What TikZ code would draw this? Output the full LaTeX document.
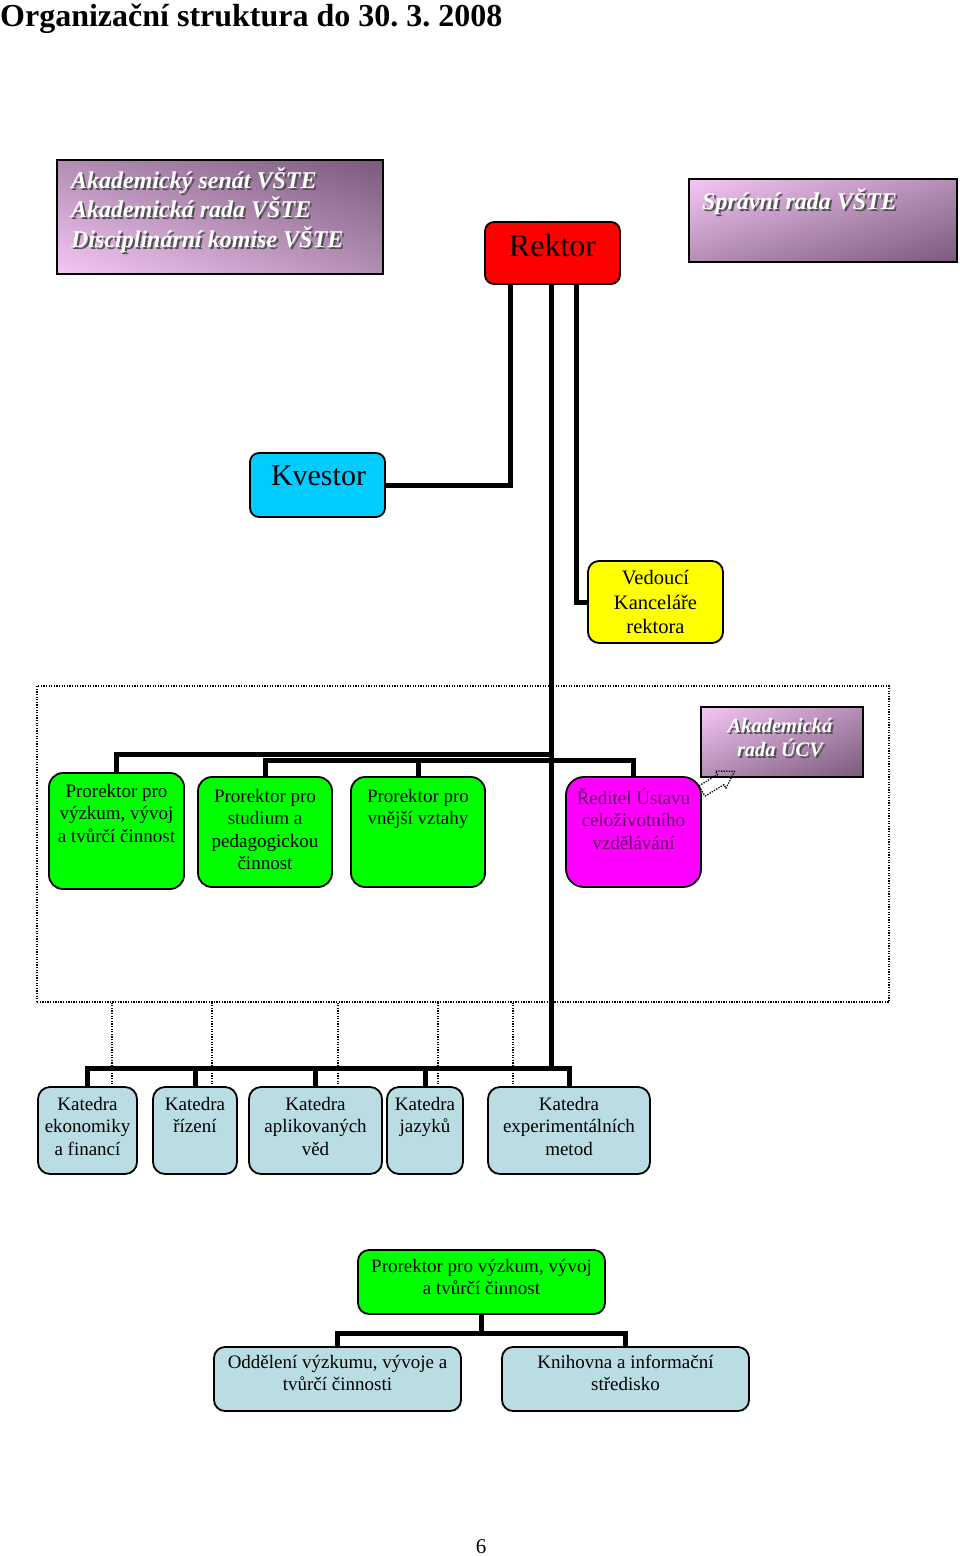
\documentclass[tikz,border=0pt]{standalone}
\usepackage{fontspec}
\setmainfont{Liberation Serif}
\usetikzlibrary{shadings}
\frenchspacing
\definecolor{grn}{HTML}{00FF00}
\definecolor{rkt}{HTML}{FF0000}
\definecolor{kvs}{HTML}{00CCFF}
\definecolor{ylw}{HTML}{FFFF00}
\definecolor{mgn}{HTML}{FF00FF}
\definecolor{mtx}{HTML}{5C005C}
\definecolor{kat}{HTML}{B9DDE3}
\definecolor{plA}{HTML}{F5C6F5}
\definecolor{plB}{HTML}{B48EB4}
\definecolor{plC}{HTML}{7A5A7C}
\definecolor{shd}{HTML}{505050}
\newcommand\fl{\rule{0pt}{0.95em}}
\newcommand\wordart[5]{%
  \node[wshadow,#5] (#1s) at (#2+2,#3+2) {#4};
  \node[wtext,#5] (#1) at (#2,#3) {#4};}
\tikzset{
  conn/.style={line width=5pt, line join=miter},
  dotln/.style={line width=1.3pt, dash pattern=on 1.3pt off 1.3pt},
  boxbase/.style={draw=black, line width=1.8pt, inner sep=0pt, outer sep=0pt},
  gbox/.style={boxbase, fill=grn, rounded corners=14pt},
  kbox/.style={boxbase, fill=kat, rounded corners=12pt},
  pbox/.style={boxbase, line width=2pt},
  txt/.style={inner sep=0pt, align=center, anchor=north, font=\fontsize{19}{22.5}\selectfont},
  wtext/.style={inner sep=0pt, text=white, font=\bfseries\itshape\fontsize{24}{28}\selectfont},
  wshadow/.style={wtext, text=shd},
}
\begin{document}
\begin{tikzpicture}[x=1pt,y=-1pt]
\useasboundingbox (0,0) rectangle (960,1556);

% title
\node[inner sep=0pt, anchor=base west, font=\bfseries\fontsize{32}{36}\selectfont] (title) at (0,26) {Organizační struktura do 30. 3. 2008};

% purple boxes
\node[pbox, minimum width=326pt, minimum height=114pt, upper left=plB, upper right=plC, lower left=plA, lower right=plB] (senat) at (220,217) {};
\wordart{senatA}{71}{188}{Akademický senát VŠTE}{anchor=base west}
\wordart{senatB}{71}{217.5}{Akademická rada VŠTE}{anchor=base west}
\wordart{senatC}{71}{247}{Disciplinární komise VŠTE}{anchor=base west}

\node[pbox, minimum width=268pt, minimum height=83pt, upper left=plA, upper right=plB, lower left=plB, lower right=plC] (sprava) at (823,220.5) {};
\wordart{spravaA}{702}{209}{Správní rada VŠTE}{anchor=base west}

% Rektor, Kvestor, Vedouci
\node[boxbase, fill=rkt, rounded corners=9pt, minimum width=135pt, minimum height=62pt] (rektor) at (552.5,253) {};
\node[inner sep=0pt, anchor=base, font=\fontsize{32}{36}\selectfont] (rektort) at (552.5,256) {Rektor};

\node[boxbase, fill=kvs, rounded corners=9pt, minimum width=135pt, minimum height=64pt] (kvestor) at (317.5,485) {};
\node[inner sep=0pt, anchor=base, font=\fontsize{30}{34}\selectfont] (kvestort) at (318.5,485) {Kvestor};

\node[boxbase, fill=ylw, rounded corners=11pt, minimum width=135pt, minimum height=82pt] (vedouci) at (655.5,602) {};
\node[txt, font=\fontsize{20.5}{24.5}\selectfont] (vedoucit) at (655.5,565) {\fl Vedoucí\\Kanceláře\\rektora};

% dotted frame
\node[dotln, draw, inner sep=0pt, outer sep=0pt, minimum width=852pt, minimum height=316pt] (frame) at (463,844) {};

% UCV box
\node[pbox, minimum width=162pt, minimum height=70pt, upper left=plA, upper right=plB, lower left=plB, lower right=plC] (ucv) at (782,742) {};
\wordart{ucvA}{780}{732}{Akademická}{anchor=base, font=\bfseries\itshape\fontsize{20.5}{24}\selectfont}
\wordart{ucvB}{780}{756}{rada ÚCV}{anchor=base, font=\bfseries\itshape\fontsize{20.5}{24}\selectfont}

% green boxes
\node[gbox, minimum width=135pt, minimum height=116pt] (p1) at (116.5,831) {};
\node[txt] (p1t) at (116.5,779) {\fl Prorektor pro\\výzkum, vývoj\\a tvůrčí činnost};
\node[gbox, minimum width=134pt, minimum height=110pt] (p2) at (265,832) {};
\node[txt] (p2t) at (265,784) {\fl Prorektor pro\\studium a\\pedagogickou\\činnost};
\node[gbox, minimum width=134pt, minimum height=110pt] (p3) at (418,832) {};
\node[txt] (p3t) at (418,784) {\fl Prorektor pro\\vnější vztahy};
\node[boxbase, fill=mgn, rounded corners=18pt, minimum width=135pt, minimum height=110pt] (p4) at (633.5,832) {};
\node[txt, text=mtx] (p4t) at (633.5,786) {\fl Ředitel Ústavu\\celoživotního\\vzdělávání};

% dotted arrow
\draw[dotln, line join=round] (705.1,796.1) -- (723.9,784.7) -- (726.0,788.2) -- (734.5,771.3) -- (715.6,771.0) -- (717.7,774.5) -- (698.9,785.9) -- cycle;

% katedra boxes
\node[kbox, minimum width=99pt, minimum height=87pt] (k1) at (87.5,1130.5) {};
\node[txt] (k1t) at (87.5,1092) {\fl Katedra\\ekonomiky\\a financí};
\node[kbox, minimum width=84pt, minimum height=87pt] (k2) at (195,1130.5) {};
\node[txt] (k2t) at (195,1092) {\fl Katedra\\řízení};
\node[kbox, minimum width=133pt, minimum height=87pt] (k3) at (315.5,1130.5) {};
\node[txt] (k3t) at (315.5,1092) {\fl Katedra\\aplikovaných\\věd};
\node[kbox, minimum width=76pt, minimum height=87pt] (k4) at (425,1130.5) {};
\node[txt] (k4t) at (425,1092) {\fl Katedra\\jazyků};
\node[kbox, minimum width=162pt, minimum height=87pt] (k5) at (569,1130.5) {};
\node[txt] (k5t) at (569,1092) {\fl Katedra\\experimentálních\\metod};

% bottom group
\node[gbox, rounded corners=11pt, minimum width=247pt, minimum height=64pt] (p5) at (481.5,1282) {};
\node[txt] (p5t) at (481.5,1254) {\fl Prorektor pro výzkum, vývoj\\a tvůrčí činnost};
\node[kbox, rounded corners=11pt, minimum width=247pt, minimum height=64pt] (o1) at (337.5,1379) {};
\node[txt] (o1t) at (337.5,1350) {\fl Oddělení výzkumu, vývoje a\\tvůrčí činnosti};
\node[kbox, rounded corners=11pt, minimum width=247pt, minimum height=64pt] (o2) at (625.5,1379) {};
\node[txt] (o2t) at (625.5,1350) {\fl Knihovna a informační\\středisko};

% page number
\node[inner sep=0pt, anchor=base, font=\fontsize{21}{24}\selectfont] (pnum) at (481,1553) {6};

% junction coordinates
\coordinate (busA) at (551,754);
\coordinate (busB) at (551,760);
\coordinate (kbus) at (551,1068);
\coordinate (bbus) at (481.5,1333);

% connectors
\draw[conn] ([xshift=-42.5pt]rektor.south) |- (kvestor.east);
\draw[conn] ([xshift=23.5pt]rektor.south) |- (vedouci.west);
\draw[conn] ([xshift=-1.5pt]rektor.south) -- (kbus);
\draw[conn] (p1.north) |- (busA);
\draw[conn] (p2.north) |- (p4.north |- busB) -- (p4.north);
\draw[conn] (p3.north) -- (p3.north |- busB);
\draw[conn] (k1.north) |- (k5.north |- kbus) -- (k5.north);
\draw[conn] (k2.north) -- (k2.north |- kbus);
\draw[conn] (k3.north) -- (k3.north |- kbus);
\draw[conn] (k4.north) -- (k4.north |- kbus);
\draw[conn] (p5.south) -- (bbus);
\draw[conn] (o1.north) |- (bbus) -| (o2.north);

% dotted links from frame to katedry
\draw[dotln] ([xshift=24.5pt]k1.north) -- ([xshift=24.5pt]k1.north |- frame.south);
\draw[dotln] ([xshift=17pt]k2.north) -- ([xshift=17pt]k2.north |- frame.south);
\draw[dotln] ([xshift=22.5pt]k3.north) -- ([xshift=22.5pt]k3.north |- frame.south);
\draw[dotln] ([xshift=13pt]k4.north) -- ([xshift=13pt]k4.north |- frame.south);
\draw[dotln] ([xshift=-56pt]k5.north) -- ([xshift=-56pt]k5.north |- frame.south);
\end{tikzpicture}
\end{document}
